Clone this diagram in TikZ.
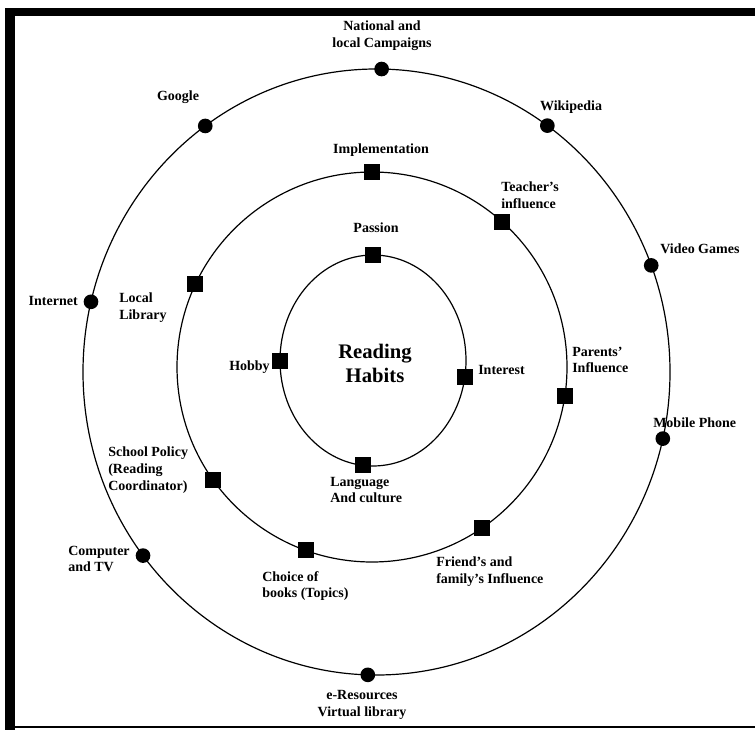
\documentclass[tikz,border=0pt]{standalone}
\usepackage{fontspec}
\setmainfont{Liberation Serif}
\usetikzlibrary{calc}

\begin{document}
\begin{tikzpicture}[x=0.75pt,y=-0.75pt,
  lbl/.style={inner sep=0pt,font=\bfseries\fontsize{10.5}{12.6}\selectfont},
  dot/.style={circle,fill=black,inner sep=0pt,minimum size=11pt},
  box/.style={rectangle,fill=black,inner sep=0pt,minimum size=12pt}]
\useasboundingbox (0,0) rectangle (755,730);
%% frame round the picture
\fill (5,8) rectangle (755,16);
\fill (5,8) rectangle (15,730);
\fill (5,726) rectangle (755,728);
%% the three rings
\coordinate (oc) at (376.5,372);
\coordinate (mc) at (372,367);
\coordinate (ic) at (373,360.5);
\draw[line width=0.9pt] (oc) ellipse [x radius=293.5, y radius=303];
\draw[line width=0.9pt] (mc) circle [radius=195];
\draw[line width=0.9pt] (ic) ellipse [x radius=93, y radius=105.5];
%% markers on the rings
\foreach \a/\n in {-89/national,-125.7/google,-54.4/wiki,-20.6/video,12.7/mobile,91.7/eres,142.7/computer,193.4/internet}
  \node[dot] (\n) at ($(oc)+(\a:293.5 and 303)$) {};
\foreach \a/\n in {-90/impl,-48/teacher,8.6/parents,55.6/friends,109.8/choice,144.5/school,205.1/library}
  \node[box] (\n) at ($(mc)+(\a:195)$) {};
\foreach \a/\n in {-90/passion,9/interest,96/language,180/hobby}
  \node[box] (\n) at ($(ic)+(\a:93 and 105.5)$) {};
%% centre
\node[inner sep=0pt,align=center,font=\bfseries\fontsize{15.5}{18}\selectfont] (title) at (375,363) {Reading\\Habits};
%% outer ring labels
\node[lbl,align=center] (l-national) at (382,36) {National and\\local Campaigns};
\node[lbl] (l-google) at (178,97) {Google};
\node[lbl] (l-wiki) at (571,107) {Wikipedia};
\node[lbl,anchor=west] (l-video) at (660,249) {Video Games};
\node[lbl,anchor=west] (l-mobile) at (653,423) {Mobile Phone};
\node[lbl,align=center] (l-eres) at (362,705) {e-Resources\\Virtual library};
\node[lbl,anchor=west,align=left] (l-computer) at (68,559) {Computer\\and TV};
\node[lbl,anchor=east] (l-internet) at (78,301) {Internet};
%% middle ring labels
\node[lbl] (l-impl) at (381,150) {Implementation};
\node[lbl,anchor=west,align=left] (l-teacher) at (501,195) {Teacher’s\\influence};
\node[lbl,anchor=west,align=left] (l-parents) at (572,360) {Parents’\\Influence};
\node[lbl,anchor=west,align=left] (l-friends) at (436,572) {Friend’s and\\family’s Influence};
\node[lbl,anchor=west,align=left] (l-choice) at (262,586) {Choice of\\books (Topics)};
\node[lbl,anchor=west,align=left] (l-school) at (108,470) {School Policy\\(Reading\\Coordinator)};
\node[lbl,anchor=west,align=left] (l-library) at (119,308) {Local\\Library};
%% inner ring labels
\node[lbl] (l-passion) at (376,228) {Passion};
\node[lbl,anchor=west] (l-interest) at (478,370) {Interest};
\node[lbl,anchor=west,align=left] (l-language) at (330,490) {Language\\And culture};
\node[lbl,anchor=east] (l-hobby) at (270,367) {Hobby};
\end{tikzpicture}
\end{document}
